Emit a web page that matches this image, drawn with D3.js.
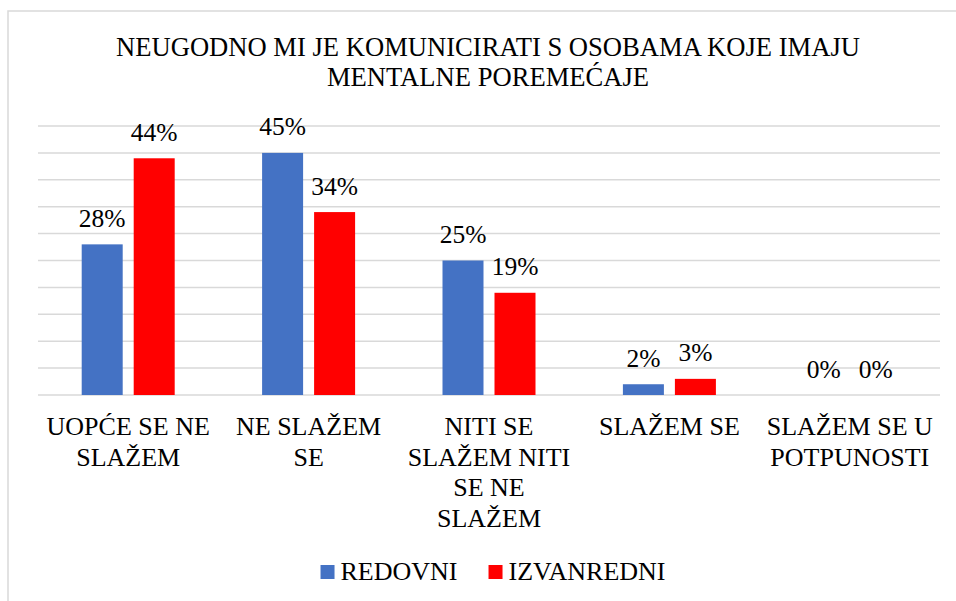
<!doctype html>
<html>
<head>
<meta charset="utf-8">
<script src="https://cdnjs.cloudflare.com/ajax/libs/d3/7.8.5/d3.min.js"></script>
</head>
<body style="margin:0; background:#fff">
<svg id="anketa" width="956" height="601" font-family="Tinos, 'Nimbus Roman', 'Liberation Serif', serif"></svg>
<script>
// data
var titleLines = ["NEUGODNO MI JE KOMUNICIRATI S OSOBAMA KOJE IMAJU", "MENTALNE POREMEĆAJE"];
var categories = ["UOPĆE SE NE SLAŽEM", "NE SLAŽEM SE", "NITI SE SLAŽEM NITI SE NE SLAŽEM", "SLAŽEM SE", "SLAŽEM SE U POTPUNOSTI"];
var seriesNames = ["REDOVNI", "IZVANREDNI"];
var redovni = [28, 45, 25, 2, 0];
var izvanredni = [44, 34, 19, 3, 0];
var yTicks = [0, 5, 10, 15, 20, 25, 30, 35, 40, 45, 50];
var colors = ["#4472C4", "#FF0000"];

var svg = d3.select("#anketa");

function serif(sel) {
  return sel.attr("font-family", "Tinos, 'Nimbus Roman', 'Liberation Serif', serif")
            .style("font-family", function() { return "Tinos, 'Nimbus Roman', 'Liberation Serif', serif"; });
}

// chart border
svg.append("rect")
   .attr("x", 8).attr("y", 11)
   .attr("width", 960).attr("height", 600)
   .attr("fill", "none")
   .attr("stroke", "#D9D9D9")
   .attr("stroke-width", 1.5);

var plotLeft = 38, plotRight = 940, plotTop = 126, plotBottom = 395;

var x = d3.scaleBand().domain(categories).range([plotLeft, plotRight]);
var groupW = 93;
var x1 = d3.scaleBand().domain(seriesNames).range([0, groupW]).paddingInner(11 / 52);
var y = d3.scaleLinear().domain([0, 50]).range([plotBottom, plotTop]);

// title
svg.selectAll(".title")
   .data(titleLines)
   .enter().append("text")
   .attr("class", "title")
   .call(serif)
   .attr("font-size", 26.6)
   .attr("text-anchor", "middle")
   .attr("x", 488)
   .attr("y", function(d, i) { return 56 + i * 30; })
   .text(function(d) { return d; });

// gridlines
svg.append("g")
   .selectAll("line")
   .data(yTicks)
   .enter().append("line")
   .attr("x1", plotLeft).attr("x2", plotRight)
   .attr("y1", function(d) { return y(d); })
   .attr("y2", function(d) { return y(d); })
   .attr("stroke", "#D9D9D9")
   .attr("stroke-width", 1.5);

var rows = categories.map(function(c, i) {
  return [
    { cat: c, s: seriesNames[0], v: redovni[i], color: colors[0] },
    { cat: c, s: seriesNames[1], v: izvanredni[i], color: colors[1] }
  ];
});

var groups = svg.append("g")
   .selectAll("g")
   .data(rows)
   .enter().append("g")
   .attr("transform", function(d) {
     return "translate(" + (x(d[0].cat) + (x.bandwidth() - groupW) / 2) + ",0)";
   });

groups.selectAll("rect")
   .data(function(d) { return d; })
   .enter().append("rect")
   .attr("x", function(d) { return x1(d.s); })
   .attr("y", function(d) { return y(d.v); })
   .attr("width", x1.bandwidth())
   .attr("height", function(d) { return plotBottom - y(d.v); })
   .attr("fill", function(d) { return d.color; });

groups.selectAll("text")
   .data(function(d) { return d; })
   .enter().append("text")
   .call(serif)
   .attr("x", function(d) { return x1(d.s) + x1.bandwidth() / 2; })
   .attr("y", function(d) { return y(d.v) - 17.5; })
   .attr("text-anchor", "middle")
   .attr("font-size", 25.5)
   .text(function(d) { return d.v + "%"; });

// category labels with wrapping
categories.forEach(function(d) {
  var cx = x(d) + x.bandwidth() / 2;
  var words = d.split(" ");
  var lines = [], cur = "";
  var probe = svg.append("text").call(serif).attr("font-size", 26);
  words.forEach(function(w) {
    var test = cur ? cur + " " + w : w;
    probe.text(test);
    if (probe.node().getComputedTextLength() > 175 && cur) {
      lines.push(cur);
      cur = w;
    } else {
      cur = test;
    }
  });
  lines.push(cur);
  probe.remove();
  svg.append("g").selectAll("text")
   .data(lines)
   .enter().append("text")
   .call(serif)
   .attr("font-size", 26)
   .attr("text-anchor", "middle")
   .attr("x", cx)
   .attr("y", function(l, i) { return 435 + i * 30.5; })
   .text(function(l) { return l; });
});

// legend
var legend = svg.append("g");
var items = legend.selectAll("g")
   .data(seriesNames)
   .enter().append("g");
items.append("rect")
   .attr("y", 565)
   .attr("width", 14).attr("height", 14)
   .attr("fill", function(d, i) { return colors[i]; });
items.append("text")
   .call(serif)
   .attr("x", 20)
   .attr("y", 580)
   .attr("font-size", 26)
   .text(function(d) { return d; });

var lx = 0;
items.each(function(d) {
  var g = d3.select(this);
  g.attr("transform", "translate(" + lx + ",0)");
  lx += 20 + g.select("text").node().getComputedTextLength() + 31;
});
var legendW = lx - 31;
legend.attr("transform", "translate(" + (493 - legendW / 2) + ",0)");
</script>
</body>
</html>
